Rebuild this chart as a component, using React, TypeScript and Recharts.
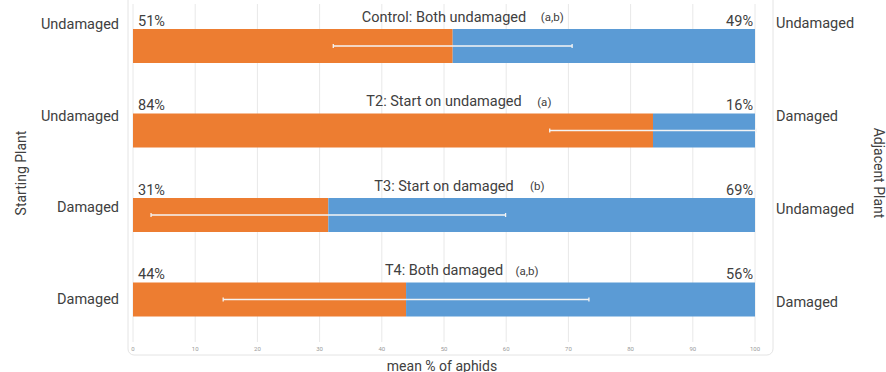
import React from "react";
import { BarChart, Bar, XAxis, YAxis, CartesianGrid, ErrorBar, LabelList } from "recharts";

const categories = ["Control", "T2", "T3", "T4"];
const titles = ["Control: Both undamaged", "T2: Start on undamaged", "T3: Start on damaged", "T4: Both damaged"];
const letters = ["(a,b)", "(a)", "(b)", "(a,b)"];
const startPlant = ["Undamaged", "Undamaged", "Damaged", "Damaged"];
const adjacentPlant = ["Undamaged", "Damaged", "Undamaged", "Damaged"];
const onStart = [51.4, 83.6, 31.4, 43.9];
const onAdjacent = [48.6, 16.4, 68.6, 56.1];
const errStart = [19.2, 16.6, 28.5, 29.4];
const xTicks = [0, 10, 20, 30, 40, 50, 60, 70, 80, 90, 100];
const rowTicks = [0, 1, 2, 3];

const ORANGE = "#ED7D31";
const BLUE = "#5B9BD5";
const TEXT = "#404040";

const data = categories.map((name, i) => ({
  name,
  orange: onStart[i],
  blue: onAdjacent[i],
  err: errStart[i],
}));

const StartLabel = (props: any) => {
  const { x, y, width, value, index } = props;
  const plotW = (width * 100) / value;
  const cx = x + plotW / 2;
  const title = titles[index];
  return (
    <g>
      <text x={x + 5} y={y - 7} fontSize={14.5} fill={TEXT} dominantBaseline="middle">
        {Math.round(value)}%
      </text>
      <text x={cx} y={y - 11} fontSize={14.5} fill={TEXT} textAnchor="middle" dominantBaseline="middle">
        {title}
      </text>
      <text x={cx + (title.length * 7.2) / 2 + 14} y={y - 11} fontSize={11.5} fill={TEXT} dominantBaseline="middle">
        {letters[index]}
      </text>
    </g>
  );
};

const AdjLabel = (props: any) => {
  const { x, y, width, value } = props;
  return (
    <text x={x + width - 2} y={y - 7} fontSize={14.5} fill={TEXT} textAnchor="end" dominantBaseline="middle">
      {Math.round(value)}%
    </text>
  );
};

const App = () => {
  return (
    <div style={{ position: "absolute", left: 0, top: 0, fontFamily: "Roboto, sans-serif" }}>
      <BarChart
        width={886}
        height={372}
        data={data}
        layout="vertical"
        margin={{ top: 4, right: 0, bottom: 0, left: 0 }}
        barSize={34}
      >
        <rect x={128} y={-6} width={645} height={361} rx={6} fill="none" stroke="#e4e4e4" />
        <CartesianGrid horizontal={false} stroke="#e8e8e8" />
        <XAxis
          type="number"
          domain={[0, 100]}
          ticks={xTicks}
          allowDataOverflow
          axisLine={false}
          tickLine={false}
          tickSize={0}
          tickMargin={5}
          height={30}
          tick={{ fontSize: 6, fill: "#9a9a9a" }}
          label={(p: any) => (
            <text x={p.viewBox.x + p.viewBox.width / 2 - 2} y={p.viewBox.y + 29} fontSize={14} fill={TEXT} textAnchor="middle">
              mean % of aphids
            </text>
          )}
        />
        <YAxis
          yAxisId="left"
          type="number"
          orientation="left"
          domain={[0, 3]}
          ticks={rowTicks}
          allowDataOverflow
          tickFormatter={(v: number) => startPlant[v]}
          padding={{ top: 20, bottom: 43 }}
          width={133}
          axisLine={false}
          tickLine={false}
          tickSize={0}
          tickMargin={14}
          tick={{ fontSize: 14.5, fill: TEXT }}
          label={(p: any) => (
            <text
              x={22}
              y={p.viewBox.y + p.viewBox.height / 2}
              fontSize={14}
              fill={TEXT}
              textAnchor="middle"
              transform={`rotate(-90 22 ${p.viewBox.y + p.viewBox.height / 2})`}
              dominantBaseline="middle"
            >
              Starting Plant
            </text>
          )}
        />
        <YAxis type="category" dataKey="name" hide width={0} />
        <YAxis
          yAxisId="right"
          type="number"
          orientation="right"
          domain={[0, 3]}
          ticks={rowTicks}
          allowDataOverflow
          tickFormatter={(v: number) => adjacentPlant[v]}
          padding={{ top: 19, bottom: 40 }}
          width={131}
          axisLine={false}
          tickLine={false}
          tickSize={0}
          tickMargin={21}
          tick={{ fontSize: 14.5, fill: TEXT, textAnchor: "start" }}
          label={(p: any) => (
            <text
              x={878}
              y={p.viewBox.y + p.viewBox.height / 2}
              fontSize={14}
              fill={TEXT}
              textAnchor="middle"
              transform={`rotate(90 878 ${p.viewBox.y + p.viewBox.height / 2})`}
              dominantBaseline="middle"
            >
              Adjacent Plant
            </text>
          )}
        />
        <Bar dataKey="orange" stackId="a" fill={ORANGE} isAnimationActive={false}>
          <LabelList dataKey="orange" content={StartLabel} />
          <ErrorBar dataKey="err" direction="x" stroke="#f4f4f4" strokeWidth={1.3} width={2} />
        </Bar>
        <Bar dataKey="blue" stackId="a" fill={BLUE} isAnimationActive={false}>
          <LabelList dataKey="blue" content={AdjLabel} />
        </Bar>
      </BarChart>
    </div>
  );
};

export default App;
